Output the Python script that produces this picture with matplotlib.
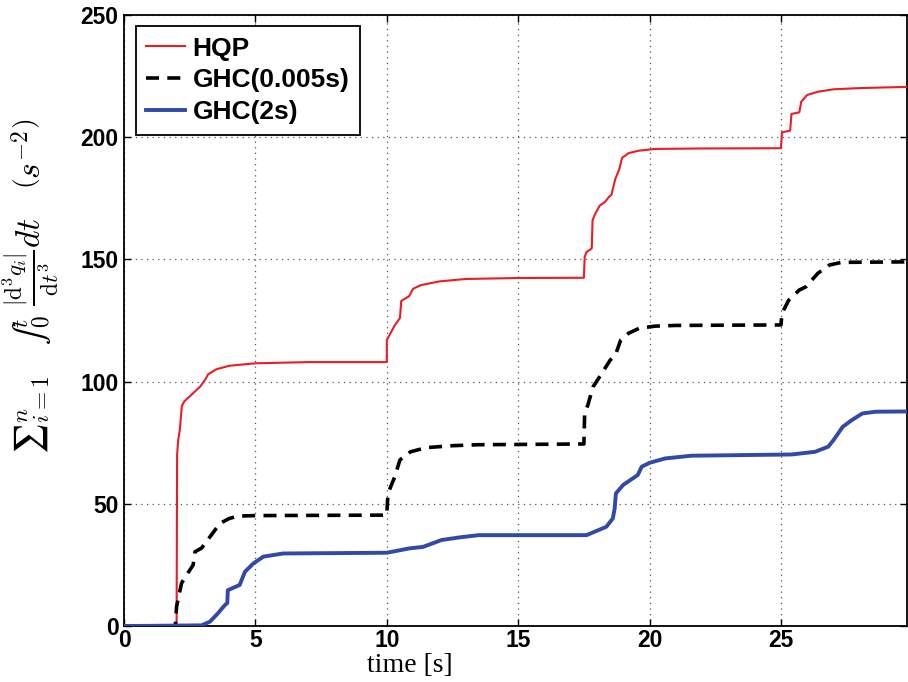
import matplotlib.pyplot as plt

# HQP curve (time [s], cumulated jerk)
hqp_t = [0, 2.0, 2.02, 2.06, 2.12, 2.2, 2.3, 2.6, 2.9, 3.1,
         3.2, 3.5, 4.0, 5.0, 7.0, 10.0, 10.0, 10.1, 10.3, 10.5,
         10.55, 10.7, 10.85, 11.0, 11.3, 12.0, 13.0, 15.0, 17.5, 17.53,
         17.6, 17.8, 17.83, 17.9, 18.0, 18.1, 18.3, 18.45, 18.55, 18.65,
         18.7, 18.85, 18.95, 19.2, 19.6, 20.2, 22.0, 25.0, 25.04, 25.35,
         25.4, 25.7, 25.77, 26.0, 26.4, 27.0, 28.0, 29.8]
hqp_v = [0, 0, 70, 76, 80, 90, 92, 95, 98, 101,
         103, 105, 106.5, 107.5, 108, 108, 117, 119, 123, 126,
         133, 134, 135, 138, 139.5, 141, 142, 142.4, 142.5, 151,
         153, 154.5, 166, 168, 170, 172, 173.5, 175.5, 176.5, 181,
         183, 187, 191.5, 193.5, 194.5, 195.2, 195.4, 195.5, 202, 202.7,
         209.5, 210.2, 214.5, 217.3, 218.6, 219.6, 220.1, 220.6]

# GHC with 0.005s horizon
ghc1_t = [0, 1.95, 2.0, 2.19, 2.43, 2.63, 2.7, 2.95, 3.27, 3.65,
          4.0, 4.33, 5.0, 10.0, 10.02, 10.05, 10.3, 10.5, 10.9, 11.5,
          12.5, 13.5, 17.5, 17.53, 17.65, 17.85, 18.1, 18.5, 18.7, 18.9,
          19.2, 19.6, 20.2, 21.0, 25.0, 25.04, 25.3, 25.7, 25.95, 26.4,
          26.84, 27.3, 29.8]
ghc1_v = [0, 0, 8, 17.6, 21.7, 25, 30.4, 31.9, 36.5, 42,
          44, 45, 45.2, 45.4, 50, 54.4, 61, 68, 71.3, 73,
          73.8, 74.2, 74.5, 87, 90.4, 97.9, 102, 108.8, 110.9, 117,
          119.8, 121.8, 122.7, 123, 123.2, 128, 133.4, 137.5, 138.8, 144.3,
          147.7, 148.8, 149]

# GHC with 2s horizon
ghc2_t = [0, 2.95, 3.27, 3.57, 3.84, 3.93, 3.95, 4.4, 4.6, 4.92,
          5.3, 6.05, 10.0, 10.87, 11.38, 12.08, 12.78, 13.5, 17.6, 18.35,
          18.6, 18.67, 18.72, 18.99, 19.55, 19.7, 20.0, 20.6, 21.6, 25.4,
          26.3, 26.8, 27.0, 27.35, 27.7, 28.1, 28.6, 29.8]
ghc2_v = [0, 0.3, 1.8, 5.2, 8.6, 9.4, 14.7, 16.8, 22.2, 25.6,
          28.4, 29.7, 30, 31.8, 32.4, 35.2, 36.3, 37.2, 37.2, 40.6,
          44, 48, 54.3, 57.7, 61.8, 65.2, 66.8, 68.6, 69.7, 70.2,
          71.3, 73.4, 76.1, 81.5, 84.3, 87, 87.7, 87.8]

x_ticks = [0, 5, 10, 15, 20, 25]
y_ticks = [0, 50, 100, 150, 200, 250]

plt.rcParams['mathtext.fontset'] = 'cm'

fig = plt.figure(figsize=(9.08, 6.82), dpi=100)
ax = fig.add_axes([0.1366, 0.082, 0.8624, 0.896])

ax.plot(hqp_t, hqp_v, color='#ec1c24', linewidth=1.5, label='HQP', zorder=3)
ax.plot(ghc1_t, ghc1_v, color='black', linewidth=2.6, dashes=(3.6, 2.3), label='GHC(0.005s)', zorder=3)
ax.plot(ghc2_t, ghc2_v, color='#3249a8', linewidth=2.8, label='GHC(2s)', zorder=3)

ax.set_xlim(0, 29.8)
ax.set_ylim(0, 250)
ax.set_xticks(x_ticks)
ax.set_yticks(y_ticks)
ax.grid(True, linestyle=(0, (1, 3.5)), color='#555555', linewidth=0.9)
ax.tick_params(direction='in', length=5, width=1, top=True, right=True)
ax.tick_params(axis='x', pad=2)
ax.tick_params(axis='y', pad=4)
for lab in ax.get_xticklabels() + ax.get_yticklabels():
    lab.set_family('Liberation Sans')
    lab.set_fontweight('bold')
    lab.set_fontsize(16.5)
for sp in ax.spines.values():
    sp.set_linewidth(1.3)

ax.set_xlabel('time [s]', family='Liberation Serif', fontsize=20)
ax.xaxis.set_label_coords(0.365, -0.044)
ax.set_ylabel('$\u2211_{i=1}^{n}\\quad\u222b_0^t\\;\\frac{|\\mathrm{d}^3 q_i|}{\\mathrm{d}t^3}dt\\quad\\left(s^{-2}\\right)$',
              fontsize=24)
ax.yaxis.set_label_coords(-0.08, 0.556)

leg = ax.legend(loc='upper left', bbox_to_anchor=(0.015, 0.982), borderaxespad=0,
                prop={'family': 'Liberation Sans', 'weight': 'bold', 'size': 19},
                frameon=True, fancybox=False, framealpha=1, edgecolor='black',
                handlelength=1.45, handletextpad=0.3, labelspacing=0.3, borderpad=0.4)
leg.get_frame().set_linewidth(1.3)

fig.savefig('out.png', dpi=100)
